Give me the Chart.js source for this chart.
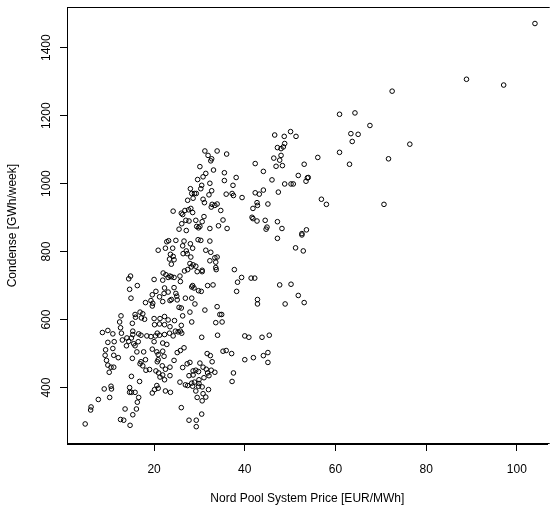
<!DOCTYPE html>
<html><head><meta charset="utf-8">
<script src="https://cdn.jsdelivr.net/npm/chart.js@4.4.0/dist/chart.umd.min.js"></script>
<style>html,body{margin:0;padding:0;background:#fff}</style>
</head><body>
<canvas id="c" width="551" height="518" style="width:551px;height:518px;display:block"></canvas>
<script>
// Nord Pool System Price [EUR/MWh]
const priceEUR = [
 31.2,33.9,36.0,31.9,32.7,32.5,30.1,33.1,35.5,31.4,30.8,29.6,35.5,32.3,30.5,28.0,30.3,32.7,29.3,28.3,28.9,35.9,32.1,28.6,27.4,30.8,31.1,32.8,33.9,32.6,33.4,24.2,26.0,28.1,27.6,26.8,28.5,26.3,34.7,31.0,27.0,27.7,29.2,30.6,26.1,29.4,29.8,30.1,32.3,34.2,25.5,27.1,36.1,35.2,
 46.6,48.7,51.3,50.1,48.8,48.0,47.2,48.5,46.4,48.0,47.7,46.9,48.3,42.3,44.1,53.1,38.1,46.0,51.8,37.4,53.8,53.5,48.8,50.2,50.7,37.2,37.5,39.4,42.3,43.2,44.1,47.4,42.7,41.8,42.8,45.1,41.6,41.8,42.7,44.5,47.2,44.9,44.7,48.2,52.6,53.6,
 14.8,14.4,16.3,14.6,14.9,18.1,12.7,16.9,15.8,17.5,15.9,17.2,17.9,12.4,15.2,12.6,8.6,9.8,10.9,12.8,15.3,15.3,16.6,17.1,14.0,15.0,18.4,
 24.8,26.6,28.0,29.7,30.3,32.3,22.8,23.2,20.9,22.5,
 24.1,26.3,27.1,28.5,31.4,32.5,23.6,24.2,23.4,24.4,
 26.4,27.3,28.1,33.4,33.9,32.3,33.6,23.8,27.9,28.6,
 29.2,28.2,33.6,33.7,30.6,27.4,26.7,22.0,22.6,23.5,
 24.4,25.7,29.5,30.6,20.0,21.9,23.1,23.8,25.8,28.5,
 28.8,28.3,29.8,30.4,31.8,33.0,19.6,20.4,22.3,24.4,
 21.2,22.2,23.1,23.8,25.0,25.1,23.5,19.3,19.7,19.6,
 21.9,26.9,28.3,29.0,33.9,25.5,26.0,31.2,34.5,34.9,
 22.3,21.3,20.0,23.1,24.5,26.3,28.3,20.1,21.2,22.3,
 23.5,26.0,24.7,25.8,25.3,26.1,33.6,35.0,20.7,23.4,
 21.2,22.3,19.3,20.3,24.2,30.5,34.0,27.9,24.8,
 47.2,52.6,51.2,52.9,37.7,39.3,38.4,41.4,42.2,38.2,42.8,42.8,47.7,50.2,51.8,53.1,48.9,40.0,40.9,43.8,45.4,
 9.8,11.2,13.0,14.4,15.5,16.5,9.3,10.9,9.2,11.1,
 9.5,9.8,10.5,11.1,10.1,12.1,13.9,15.8,16.2,15.2,
 17.7,17.1,17.5,18.2,16.9,18.1,15.0,16.8,9.0,10.5,
 10.6,10.2,7.7,14.6,15.0,15.8,14.6,16.6,16.3,16.1,
 13.6,15.3,6.1,6.0,4.8,12.6,13.3,14.7,
 20.0,21.9,22.8,19.6,20.6,20.9,22.2,21.9,20.9,20.7,
 21.8,22.5,23.5,24.4,25.1,25.8,26.6,20.4,21.0,21.9,
 22.3,23.5,19.0,21.3,20.6,20.1,19.6,20.9,22.5,23.6,
 26.3,27.3,27.9,30.1,31.7,32.4,32.8,35.2,35.9,29.2,
 28.6,27.7,28.6,29.8,30.8,31.5,31.8,32.6,33.4,32.1,
 31.0,29.9,28.9,28.3,25.7,26.9,27.4,28.5,29.8,30.6,
 29.9,29.2,32.0,30.8,29.5,31.4,30.6,26.0,27.7,29.3,
 30.5,29.3,
 37.1,40.0,41.9,44.1,45.1,45.1,37.5,37.2,
 104.0,88.9,97.1,72.5,60.9,64.3,67.6,63.4,65.0,63.7,
 76.4,60.9,56.1,71.7,63.1,54.0,56.9,58.0,70.7
];
// Condense [GWh/week]
const condenseGWh = [
 1096,1096,1087,1083,1073,1067,1050,1040,1032,1030,1020,1012,1009,1001,995,985,985,979,971,971,971,969,967,957,951,954,944,939,940,931,936,919,913,927,923,921,915,909,921,903,892,890,892,888,882,874,870,874,868,876,866,862,868,893,
 1143,1139,1139,1153,1118,1103,1106,1108,1075,1083,1069,1051,1053,1059,1036,1057,1018,1011,1024,995,1017,1007,999,999,999,971,965,959,973,969,981,975,944,927,936,940,901,897,890,892,888,872,866,868,853,864,
 728,720,700,689,663,650,611,622,615,617,607,605,601,593,589,576,562,568,558,560,566,556,558,554,546,546,552,
 833,831,823,835,833,831,829,832,804,810,
 810,817,802,810,804,798,792,786,778,776,
 794,794,784,782,784,773,769,763,765,761,
 757,755,753,747,745,747,743,737,732,728,
 724,728,741,741,718,716,724,726,712,700,
 693,696,685,683,700,702,673,683,693,694,
 667,677,681,659,669,658,656,656,648,640,
 653,663,663,646,638,636,634,628,615,615,
 609,603,603,599,597,611,593,585,587,585,
 579,583,566,566,564,560,591,593,560,560,
 554,556,550,552,552,548,554,622,677,
 839,849,811,802,747,724,710,722,722,683,659,646,702,704,671,650,646,552,548,548,554,
 533,535,540,536,529,535,511,515,495,495,
 480,466,460,460,445,488,523,523,505,486,
 505,476,464,451,470,482,433,418,396,404,
 396,371,365,400,386,386,386,371,357,337,
 337,320,343,334,293,306,304,289,
 535,531,527,513,505,497,492,507,482,476,
 464,454,460,480,503,509,517,449,443,437,
 423,435,453,431,406,394,384,398,390,386,
 459,470,474,472,500,494,476,507,509,451,
 449,435,437,447,460,454,443,451,445,435,
 429,423,416,413,416,408,406,404,404,402,
 412,390,394,382,371,372,361,341,304,304,
 322,285,
 500,482,488,494,503,474,443,418,
 1471,1307,1290,1272,1204,1208,1171,1147,1145,1124,
 1116,1092,1077,1073,1057,1018,954,939,939
];
const xTickValues = [20, 40, 60, 80, 100];
const yTickValues = [400, 600, 800, 1000, 1200, 1400];
const xTitle = 'Nord Pool System Price [EUR/MWh]';
const yTitle = 'Condense [GWh/week]';

const points = priceEUR.map((x, i) => ({x: x, y: condenseGWh[i]}));
const FONT = "'Liberation Sans', Arial, Helvetica, sans-serif";

// plot frame: top, left and bottom edges (the right edge lies just outside the picture)
const boxPlugin = {
  id: 'box',
  afterDraw(chart) {
    const a = chart.chartArea, ctx = chart.ctx;
    const l = Math.round(a.left) + 0.5, t = Math.round(a.top) + 0.5, b = Math.round(a.bottom) - 0.5;
    ctx.save();
    ctx.strokeStyle = '#000';
    ctx.lineWidth = 1;
    ctx.beginPath();
    ctx.moveTo(a.right + 2, t); ctx.lineTo(l, t); ctx.lineTo(l, b); ctx.lineTo(a.right + 2, b);
    ctx.stroke();
    ctx.restore();
  }
};

new Chart(document.getElementById('c'), {
  type: 'scatter',
  data: { datasets: [{
    data: points,
    pointStyle: 'circle',
    pointRadius: 2.3,
    pointHoverRadius: 2.3,
    pointBorderWidth: 1,
    pointBorderColor: '#000',
    pointBackgroundColor: 'rgba(0,0,0,0)'
  }]},
  options: {
    responsive: false,
    devicePixelRatio: 1,
    animation: false,
    events: [],
    layout: { padding: { left: 0, top: 5, right: 0, bottom: 0 } },
    plugins: { legend: { display: false }, tooltip: { enabled: false } },
    scales: {
      x: {
        type: 'linear', min: 0.79, max: 106.81,
        afterBuildTicks: s => { s.ticks = xTickValues.map(v => ({value: v})); },
        afterFit: s => { s.height = 74; },
        grid: { drawOnChartArea: false, drawTicks: true, tickLength: 7, color: '#000', lineWidth: 1 },
        border: { display: true, color: '#000', width: 1 },
        ticks: { color: '#000', font: { family: FONT, size: 12 }, padding: 11, maxRotation: 0, minRotation: 0,
                 callback: v => String(v) },
        title: { display: true, text: xTitle, color: '#000', font: { family: FONT, size: 12 }, padding: { top: 0, bottom: 12 } }
      },
      y: {
        type: 'linear', min: 234, max: 1519,
        afterBuildTicks: s => { s.ticks = yTickValues.map(v => ({value: v})); },
        afterFit: s => { s.width = 67; },
        grid: { drawOnChartArea: false, drawTicks: true, tickLength: 7, color: '#000', lineWidth: 1 },
        border: { display: true, color: '#000', width: 1 },
        ticks: { color: '#000', font: { family: FONT, size: 12 }, padding: 0, minRotation: 90, maxRotation: 90, crossAlign: 'center',
                 callback: v => String(v) },
        title: { display: true, text: yTitle, color: '#000', font: { family: FONT, size: 12 }, padding: { top: 5, bottom: 0 } }
      }
    }
  },
  plugins: [boxPlugin]
});
</script>
</body></html>
